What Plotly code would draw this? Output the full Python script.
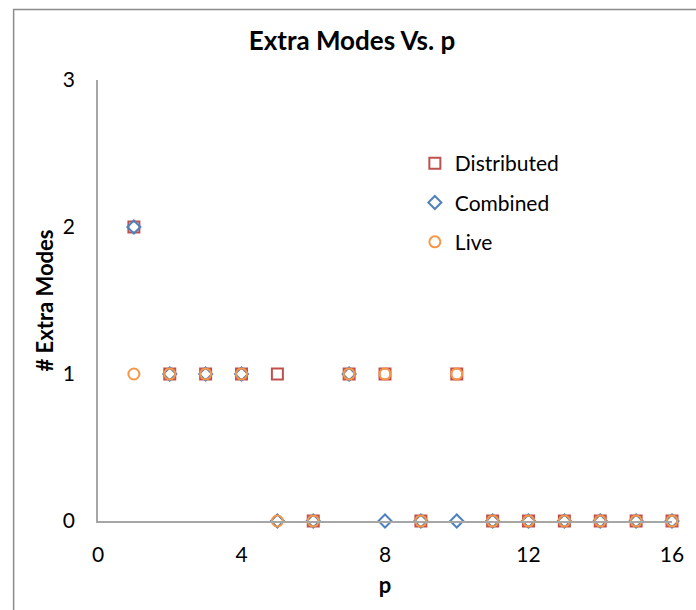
import plotly.graph_objects as go

# Extra modes found for each value of p
p_values = [1, 2, 3, 4, 5, 6, 7, 8, 9, 10, 11, 12, 13, 14, 15, 16]
distributed = [2, 1, 1, 1, 1, 0, 1, 1, 0, 1, 0, 0, 0, 0, 0, 0]
combined = [2, 1, 1, 1, 0, 0, 1, 0, 0, 0, 0, 0, 0, 0, 0, 0]
live = [1, 1, 1, 1, 0, 0, 1, 1, 0, 1, 0, 0, 0, 0, 0, 0]

x_ticks = [0, 4, 8, 12, 16]
y_ticks = [0, 1, 2, 3]

FONT = "Lato"

fig = go.Figure()
fig.add_trace(go.Scatter(
    x=p_values, y=distributed, mode="markers", name="Distributed", legendgroup="d",
    marker=dict(symbol="square-open", size=11, color="#C0504D", line=dict(width=2)),
    cliponaxis=False,
))
fig.add_trace(go.Scatter(
    x=p_values, y=combined, mode="markers", name="Combined", legendgroup="c",
    marker=dict(symbol="diamond-open", size=10, color="#4F81BD", line=dict(width=2)),
    cliponaxis=False,
))
fig.add_trace(go.Scatter(
    x=p_values, y=live, mode="markers", name="Live", legendgroup="l",
    marker=dict(symbol="circle-open", size=11, color="#F79646", line=dict(width=2)),
    cliponaxis=False,
))

# outer chart frame
fig.add_shape(type="rect", xref="paper", yref="paper",
              x0=-0.147, x1=1.3, y0=-0.5, y1=1.16,
              line=dict(color="#8C8C8C", width=1.5), fillcolor="rgba(0,0,0,0)", layer="below")

fig.update_layout(
    width=696, height=610,
    margin=dict(l=98, r=17, t=80, b=89),
    paper_bgcolor="white", plot_bgcolor="white",
    font=dict(family=FONT, size=21, color="#000000"),
    title=dict(text="<b>Extra Modes Vs. p</b>", x=352 / 696, xanchor="center",
               y=1 - 41 / 610, yanchor="middle", font=dict(size=26, family=FONT)),
    xaxis=dict(range=[0, 16], tickvals=x_ticks, showgrid=False, zeroline=False,
               showline=True, linecolor="#A6A6A6", linewidth=1.5,
               ticks="outside", ticklen=14, tickcolor="rgba(0,0,0,0)",
               tickfont=dict(size=21),
               title=dict(text="<b>p</b>", font=dict(size=22), standoff=13)),
    yaxis=dict(range=[0, 3], tickvals=y_ticks, showgrid=False, zeroline=False,
               showline=True, linecolor="#A6A6A6", linewidth=1.5,
               ticks="outside", ticklen=17, tickcolor="rgba(0,0,0,0)",
               tickfont=dict(size=21),
               title=dict(text="<b># Extra Modes</b>", font=dict(size=22), standoff=3)),
    legend=dict(x=0.552, y=0.857, xanchor="left", yanchor="top",
                bgcolor="rgba(0,0,0,0)", font=dict(size=21), tracegroupgap=9,
                itemwidth=30),
    showlegend=True,
)

fig.write_html("out.html")
